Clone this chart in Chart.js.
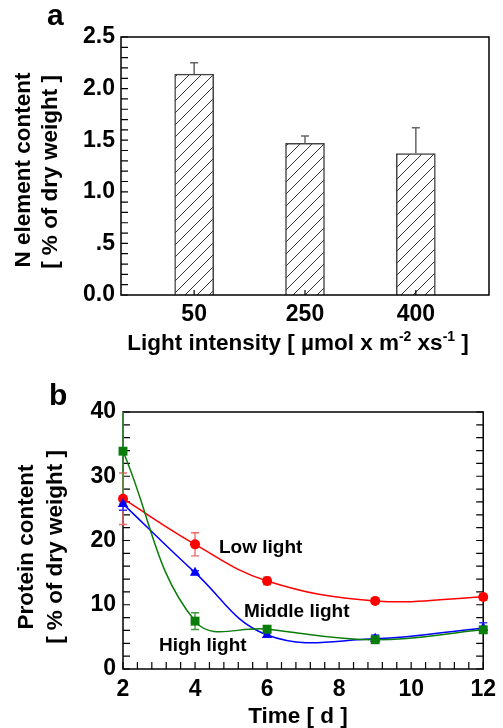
<!DOCTYPE html>
<html lang="en">
<head>
<meta charset="UTF-8">
<title>N element and protein content</title>
<script src="https://cdn.jsdelivr.net/npm/chart.js"></script>
<style>
  body { margin: 0; background: #fff; }
  .panel { position: absolute; left: 0; width: 503px; }
  #panelA { top: 0; height: 370px; }
  #panelB { top: 370px; height: 358px; }
</style>
</head>
<body>
<div class="panel" id="panelA"><canvas id="chartA"></canvas></div>
<div class="panel" id="panelB"><canvas id="chartB"></canvas></div>
<script>
// panel a: N content vs light intensity
const lightLevels = ['50', '250', '400'];
const nContent = [2.14, 1.47, 1.37];
const nError = [0.11, 0.07, 0.25];
const yTicksA = [0, 0.5, 1, 1.5, 2, 2.5];

// panel b: protein content over time
const days = [2, 4, 6, 9, 12];
const lowLight = [26.5, 19.4, 13.7, 10.6, 11.2];
const lowLightErr = [4.0, 1.8, 0.6, 0.3, 0.5];
const middleLight = [25.7, 15.0, 5.3, 4.7, 6.4];
const middleLightErr = [1.0, 0.3, 0.3, 0.6, 0.8];
const highLight = [33.9, 7.45, 6.2, 4.55, 6.1];
const highLightErr = [8.2, 1.3, 0.5, 0.4, 0.5];
const xTicksB = [2, 4, 6, 8, 10, 12];
const yTicksB = [0, 10, 20, 30, 40];

const FAM = "'Liberation Sans', Arial, Helvetica, sans-serif";
Chart.defaults.font.family = FAM;
Chart.defaults.color = '#000';

function hatchPattern() {
    const c = document.createElement('canvas');
    c.width = 12; c.height = 12;
    const g = c.getContext('2d');
    g.fillStyle = '#fff';
    g.fillRect(0, 0, 12, 12);
    g.strokeStyle = '#333';
    g.lineWidth = 1;
    g.beginPath();
    g.moveTo(0, 12); g.lineTo(12, 0);
    g.moveTo(-2, 2); g.lineTo(2, -2);
    g.moveTo(10, 14); g.lineTo(14, 10);
    g.stroke();
    return g.createPattern(c, 'repeat');
}

function vText(ctx, text, cx, cy, font) {
    ctx.save();
    ctx.translate(cx, cy);
    ctx.rotate(-Math.PI / 2);
    ctx.font = font;
    ctx.textAlign = 'center';
    ctx.textBaseline = 'middle';
    ctx.fillText(text, 0, 0);
    ctx.restore();
}

// text with superscript pieces, centred on cx
function supText(ctx, parts, cx, baseY, font, supFont, rise) {
    ctx.save();
    let total = 0;
    parts.forEach(p => { ctx.font = p[1] ? supFont : font; total += ctx.measureText(p[0]).width; });
    let x = cx - total / 2;
    ctx.textAlign = 'left';
    ctx.textBaseline = 'alphabetic';
    parts.forEach(p => {
        ctx.font = p[1] ? supFont : font;
        ctx.fillText(p[0], x, p[1] ? baseY - rise : baseY);
        x += ctx.measureText(p[0]).width;
    });
    ctx.restore();
}

function frame(ctx, a) {
    ctx.save();
    ctx.strokeStyle = '#000';
    ctx.lineWidth = 1.5;
    ctx.strokeRect(a.left, a.top, a.right - a.left, a.bottom - a.top);
    ctx.restore();
}

const tickFont = { size: 23, weight: 'bold' };

// ---------- panel a ----------
const panelA = {
    id: 'panelA',
    afterDatasetsDraw(chart) {
        const ctx = chart.ctx, a = chart.chartArea;
        const xs = chart.scales.x, ys = chart.scales.y;
        // upper error whiskers
        ctx.save();
        ctx.strokeStyle = '#666';
        ctx.lineWidth = 1.5;
        nContent.forEach((v, i) => {
            const x = xs.getPixelForValue(i);
            const y0 = ys.getPixelForValue(v);
            const y1 = ys.getPixelForValue(v + nError[i]);
            ctx.beginPath();
            ctx.moveTo(x, y0); ctx.lineTo(x, y1);
            ctx.moveTo(x - 4, y1); ctx.lineTo(x + 4, y1);
            ctx.stroke();
        });
        ctx.restore();

        frame(ctx, a);
        ctx.save();
        ctx.strokeStyle = '#000';
        ctx.lineWidth = 1.2;
        ctx.beginPath();
        for (let k = 0; k <= 25; k++) {
            const y = ys.getPixelForValue(k / 10);
            ctx.moveTo(a.left, y); ctx.lineTo(a.left + 7, y);
        }
        lightLevels.forEach((c, i) => {
            const x = xs.getPixelForValue(i);
            ctx.moveTo(x, a.bottom); ctx.lineTo(x, a.bottom - 5);
        });
        ctx.stroke();
        ctx.restore();

        ctx.save();
        ctx.fillStyle = '#000';
        ctx.font = 'bold 30px ' + FAM;
        ctx.fillText('a', 47, 25);
        vText(ctx, 'N element content', 24, 170, 'bold 22.5px ' + FAM);
        vText(ctx, '[ % of dry weight ]', 51, 172, 'bold 22.5px ' + FAM);
        supText(ctx, [['Light intensity [ \u00b5mol x m', false], ['-2', true], [' xs', false], ['-1', true], [' ]', false]],
            298, 350, 'bold 22.5px ' + FAM, 'bold 14px ' + FAM, 9);
        ctx.restore();
    }
};

new Chart(document.getElementById('chartA'), {
    type: 'bar',
    data: {
        datasets: [{
            data: nContent.map((v, i) => ({ x: i, y: v })),
            backgroundColor: hatchPattern(),
            borderColor: '#444',
            borderWidth: 1.5,
            barThickness: 39
        }]
    },
    options: {
        responsive: true,
        maintainAspectRatio: false,
        animation: false,
        devicePixelRatio: 1,
        layout: { padding: { top: 37, right: 14, left: 0, bottom: 0 } },
        scales: {
            x: {
                type: 'linear', min: -0.66, max: 2.66, offset: false,
                afterBuildTicks: s => { s.ticks = lightLevels.map((c, i) => ({ value: i })); },
                afterFit: s => { s.height = 75; },
                ticks: { callback: v => lightLevels[v], font: tickFont, padding: 6, autoSkip: false, maxRotation: 0 },
                grid: { display: false, drawTicks: false },
                border: { display: false }
            },
            y: {
                min: 0, max: 2.5,
                afterBuildTicks: s => { s.ticks = yTicksA.map(v => ({ value: v })); },
                afterFit: s => { s.width = 121; },
                ticks: { callback: v => v === 0.5 ? '.5' : v.toFixed(1), font: tickFont, padding: 6 },
                grid: { display: false, drawTicks: false },
                border: { display: false }
            }
        },
        plugins: { legend: { display: false }, tooltip: { enabled: false } }
    },
    plugins: [panelA]
});

// ---------- panel b ----------
const seriesB = [
    { label: 'High light', data: highLight, err: highLightErr, color: '#0a7d0a', errColor: '#3d9a3d', style: 'rect', r: 6.3 },
    { label: 'Middle light', data: middleLight, err: middleLightErr, color: '#0000ff', errColor: '#3333ff', style: 'triangle', r: 6 },
    { label: 'Low light', data: lowLight, err: lowLightErr, color: '#ff0000', errColor: '#f06a6a', style: 'circle', r: 5 }
];

const panelB = {
    id: 'panelB',
    beforeDatasetsDraw(chart) {
        const ctx = chart.ctx, a = chart.chartArea;
        const xs = chart.scales.x, ys = chart.scales.y;
        frame(ctx, a);
        ctx.save();
        ctx.strokeStyle = '#000';
        ctx.lineWidth = 1.2;
        ctx.beginPath();
        for (let v = 0; v <= 40; v += 2) {
            const y = ys.getPixelForValue(v);
            ctx.moveTo(a.left, y); ctx.lineTo(a.left + 7, y);
            ctx.moveTo(a.right, y); ctx.lineTo(a.right - 7, y);
        }
        for (let k = 0; k <= 25; k++) {
            const x = xs.getPixelForValue(2 + k * 0.4);
            ctx.moveTo(x, a.bottom); ctx.lineTo(x, a.bottom - 7);
        }
        ctx.stroke();
        ctx.restore();

        // error bars, clipped at the top of the plot
        ctx.save();
        ctx.beginPath();
        ctx.rect(a.left - 20, a.top, a.right - a.left + 40, a.bottom - a.top + 20);
        ctx.clip();
        ctx.lineWidth = 1.4;
        seriesB.slice().reverse().forEach(s => {
            ctx.strokeStyle = s.errColor;
            s.data.forEach((v, i) => {
                const x = xs.getPixelForValue(days[i]);
                const yt = ys.getPixelForValue(v + s.err[i]);
                const yb = ys.getPixelForValue(v - s.err[i]);
                ctx.beginPath();
                ctx.moveTo(x, yt); ctx.lineTo(x, yb);
                ctx.moveTo(x - 4, yt); ctx.lineTo(x + 4, yt);
                ctx.moveTo(x - 4, yb); ctx.lineTo(x + 4, yb);
                ctx.stroke();
            });
        });
        ctx.restore();
    },
    afterDatasetsDraw(chart) {
        const ctx = chart.ctx;
        ctx.save();
        ctx.fillStyle = '#000';
        ctx.font = 'bold 30px ' + FAM;
        ctx.fillText('b', 49, 35);
        vText(ctx, 'Protein content', 27, 177, 'bold 22.5px ' + FAM);
        vText(ctx, '[ % of dry weight ]', 56, 177, 'bold 22.5px ' + FAM);
        ctx.font = 'bold 22.5px ' + FAM;
        ctx.textAlign = 'center';
        ctx.textBaseline = 'middle';
        ctx.fillText('Time [ d ]', 298, 347);
        ctx.font = 'bold 19px ' + FAM;
        ctx.textAlign = 'left';
        ctx.fillText('Low light', 219, 178);
        ctx.fillText('Middle light', 244, 242);
        ctx.fillText('High light', 159, 276);
        ctx.restore();
    }
};

new Chart(document.getElementById('chartB'), {
    type: 'line',
    data: {
        datasets: seriesB.map(s => ({
            label: s.label,
            data: days.map((d, i) => ({ x: d, y: s.data[i] })),
            borderColor: s.color,
            backgroundColor: s.color,
            borderWidth: 1.5,
            pointStyle: s.style,
            pointRadius: s.r,
            pointBorderWidth: 0,
            tension: 0.4,
            clip: false
        }))
    },
    options: {
        responsive: true,
        maintainAspectRatio: false,
        animation: false,
        devicePixelRatio: 1,
        layout: { padding: { top: 42, right: 14, left: 0, bottom: 0 } },
        scales: {
            x: {
                type: 'linear', min: 2, max: 12,
                afterBuildTicks: s => { s.ticks = xTicksB.map(v => ({ value: v })); },
                afterFit: s => { s.height = 59; },
                ticks: { font: tickFont, padding: 7, autoSkip: false, maxRotation: 0 },
                grid: { display: false, drawTicks: false },
                border: { display: false }
            },
            y: {
                min: 0, max: 40,
                afterBuildTicks: s => { s.ticks = yTicksB.map(v => ({ value: v })); },
                afterFit: s => { s.width = 123; },
                ticks: { font: tickFont, padding: 7 },
                grid: { display: false, drawTicks: false },
                border: { display: false }
            }
        },
        plugins: { legend: { display: false }, tooltip: { enabled: false } }
    },
    plugins: [panelB]
});
</script>
</body>
</html>
